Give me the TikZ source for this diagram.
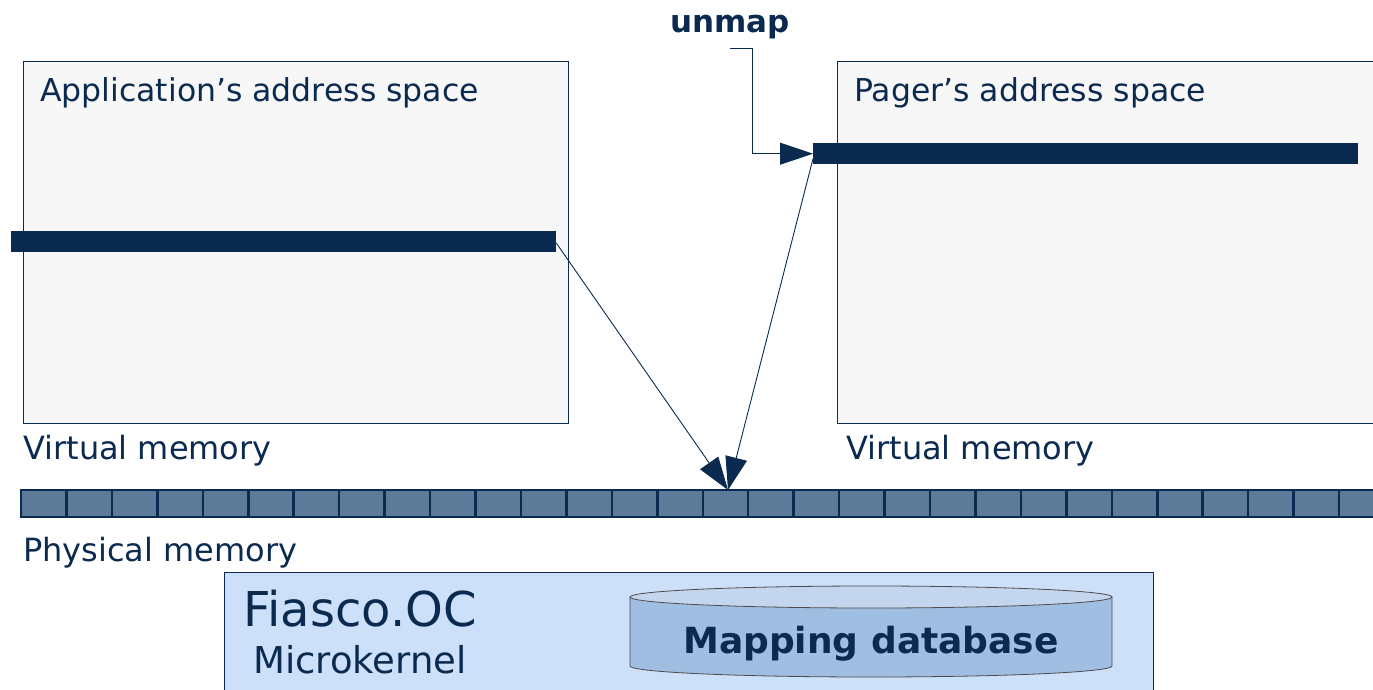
\documentclass[tikz,border=0pt]{standalone}
\usepackage{fontspec}
\setmainfont{DejaVu Sans}
\usetikzlibrary{arrows.meta}
\definecolor{navy}{RGB}{11,42,80}
\definecolor{boxfill}{RGB}{247,247,247}
\definecolor{cellfill}{RGB}{94,122,153}
\definecolor{kernfill}{RGB}{204,224,250}
\definecolor{cylbody}{RGB}{160,190,226}
\definecolor{cyltop}{RGB}{196,214,238}
\tikzset{
  spacebox/.style={draw=navy,line width=0.9pt,fill=boxfill,inner sep=0pt,anchor=north west},
  bar/.style={fill=navy,inner sep=0pt,minimum width=545pt,minimum height=21pt,anchor=north west},
  label/.style={text=navy,inner sep=0pt,anchor=base west,font=\fontsize{32}{38}\selectfont},
  arr/.style={draw=navy,line width=0.9pt,-{Triangle[length=33pt,width=22pt]}},
  plain/.style={draw=navy,line width=0.9pt}
}
\begin{document}
\begin{tikzpicture}[x=1pt,y=-1pt]
\useasboundingbox (0,0) rectangle (1373,689);
\begin{scope}
\clip (0,0) rectangle (1373,689);
% address spaces
\node[spacebox,minimum width=545pt,minimum height=362pt] (appbox) at (23,61) {};
\node[spacebox,minimum width=560pt,minimum height=362pt] (pagerbox) at (837,61) {};
\node[label,font=\fontsize{31.5}{38}\selectfont] (apptitle) at (40,101) {Application’s address space};
\node[label,font=\fontsize{31.5}{38}\selectfont] (pagertitle) at (854,101) {Pager’s address space};
% bars
\node[bar] (appbar) at (11,231) {};
\node[bar] (pagerbar) at (813,143) {};
% labels
\node[label] (vm1) at (23,459) {Virtual memory};
\node[label] (vm2) at (846,459) {Virtual memory};
\node[label] (pm) at (23,561) {Physical memory};
% physical memory strip
\foreach \i in {0,...,29}{
  \draw[navy,line width=2.5pt,fill=cellfill] ({21+45.45*\i},490) rectangle ({21+45.45*(\i+1)},517);
}
\coordinate (memtarget) at (728,490);
% kernel
\node[draw=navy,line width=0.9pt,fill=kernfill,inner sep=0pt,anchor=north west,minimum width=929pt,minimum height=140pt] (kernel) at (224,572) {};
\node[text=navy,inner sep=0pt,anchor=base west,font=\fontsize{48}{56}\selectfont] (fiasco) at (243,626) {Fiasco.OC};
\node[text=navy,inner sep=0pt,anchor=base west,font=\fontsize{37}{43}\selectfont] (micro) at (253,673) {Microkernel};
% cylinder
\draw[black!70,line width=0.8pt,fill=cylbody] (630,597) -- (630,666) arc[start angle=180,end angle=360,x radius=241pt,y radius=11pt] -- (1112,597);
\draw[black!70,line width=0.8pt,fill=cyltop] (871,597) ellipse[x radius=241pt,y radius=11pt];
\node[text=navy,inner sep=0pt,anchor=base,font=\fontsize{36}{43}\selectfont\bfseries] (mapdb) at (871,653) {Mapping database};
\end{scope}
% unmap
\node[text=navy,inner sep=0pt,anchor=base,font=\fontsize{31}{37}\selectfont\bfseries] (unmap) at (730,32) {unmap};
\coordinate (ustart) at (730,48);
\draw[arr] (ustart) -- ++(22,0) |- (pagerbar.west);
% mapping arrows
\draw[arr] ([yshift=-1.5pt]appbar.east) -- (memtarget);
\draw[arr] ([yshift=-5pt]pagerbar.west) -- (memtarget);
\end{tikzpicture}
\end{document}
